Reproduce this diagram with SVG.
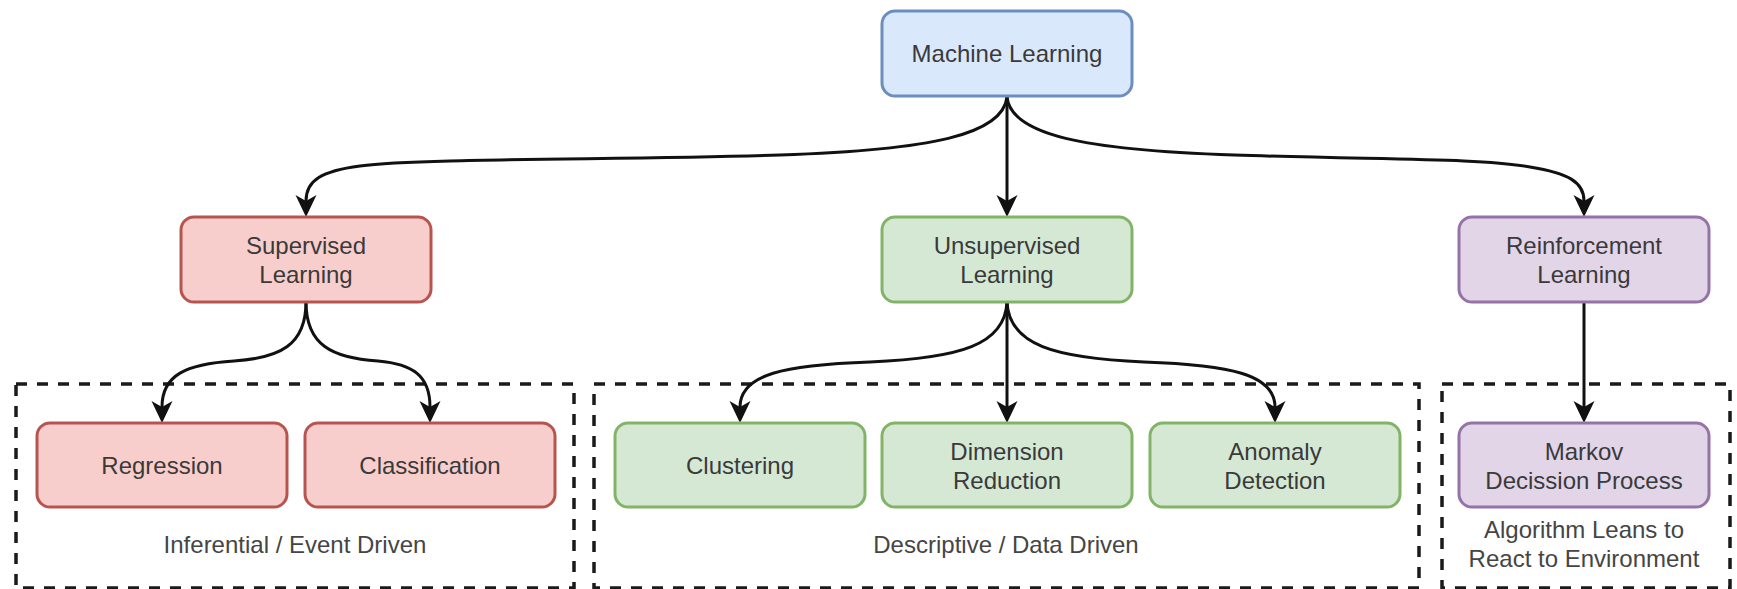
<svg xmlns="http://www.w3.org/2000/svg" width="1737" height="589" viewBox="0 0 1737 589">
  <style>
    .node rect { stroke-width: 3; }
    .blue rect { fill: #dae8fc; stroke: #6c8ebf; }
    .red rect { fill: #f8cecc; stroke: #b85450; }
    .green rect { fill: #d5e8d4; stroke: #82b366; }
    .purple rect { fill: #e1d5e7; stroke: #9673a6; }
    text { font-family: "Liberation Sans", Arial, sans-serif; font-size: 24px; fill: #3a3a3a; text-anchor: middle; }
    .group text { fill: #454545; }
    .group rect { fill: none; stroke: #1a1a1a; stroke-width: 3.5; stroke-dasharray: 11 10; }
    .edge { fill: none; stroke: #111111; stroke-width: 3; marker-end: url(#arrow); }
  </style>
  <defs>
    <marker id="arrow" markerUnits="userSpaceOnUse" markerWidth="24" markerHeight="24" refX="6" refY="10.5" orient="auto">
      <path d="M0,0 L22,10.5 L0,21 L6,10.5 Z" fill="#111111"/>
    </marker>
  </defs>
  <rect width="1737" height="589" fill="#ffffff"/>

  <!-- dashed category frames -->
  <g id="group-supervised" class="group">
    <rect x="16" y="384" width="558" height="204"/>
    <text x="295" y="553">Inferential / Event Driven</text>
  </g>
  <g id="group-unsupervised" class="group">
    <rect x="594" y="384" width="825" height="204"/>
    <text x="1006" y="553">Descriptive / Data Driven</text>
  </g>
  <g id="group-reinforcement" class="group">
    <rect x="1442" y="384" width="288" height="204"/>
    <text x="1584" y="538">Algorithm Leans to</text>
    <text x="1584" y="567">React to Environment</text>
  </g>

  <!-- connectors -->
  <g id="connectors">
    <path class="edge" d="M1007,97 C1003,135 930,150 780,155 C630,160 420,158 360,166 C322,171 306,180 306,201"/>
    <path class="edge" d="M1007,97 L1007,201"/>
    <path class="edge" d="M1007,97 C1011,135 1084,150 1234,155 C1380,160 1480,158 1530,167 C1568,173 1584,182 1584,201"/>
    <path class="edge" d="M306,302 C306,345 280,358 234,361 C186,364 162,375 162,407"/>
    <path class="edge" d="M306,302 C306,345 332,358 378,361 C412,364 430,375 430,407"/>
    <path class="edge" d="M1007,302 C1005,345 960,358 870,362 C785,365 740,374 740,407"/>
    <path class="edge" d="M1007,302 L1007,407"/>
    <path class="edge" d="M1007,302 C1009,345 1054,358 1144,362 C1229,365 1275,374 1275,407"/>
    <path class="edge" d="M1584,302 L1584,407"/>
  </g>

  <!-- nodes -->
  <g id="machine-learning" class="node blue">
    <rect x="882" y="11" width="250" height="85" rx="13"/>
    <text x="1007" y="62">Machine Learning</text>
  </g>
  <g id="supervised-learning" class="node red">
    <rect x="181" y="217" width="250" height="85" rx="13"/>
    <text x="306" y="254">Supervised</text>
    <text x="306" y="283">Learning</text>
  </g>
  <g id="unsupervised-learning" class="node green">
    <rect x="882" y="217" width="250" height="85" rx="13"/>
    <text x="1007" y="254">Unsupervised</text>
    <text x="1007" y="283">Learning</text>
  </g>
  <g id="reinforcement-learning" class="node purple">
    <rect x="1459" y="217" width="250" height="85" rx="13"/>
    <text x="1584" y="254">Reinforcement</text>
    <text x="1584" y="283">Learning</text>
  </g>
  <g id="regression" class="node red">
    <rect x="37" y="423" width="250" height="84" rx="13"/>
    <text x="162" y="474">Regression</text>
  </g>
  <g id="classification" class="node red">
    <rect x="305" y="423" width="250" height="84" rx="13"/>
    <text x="430" y="474">Classification</text>
  </g>
  <g id="clustering" class="node green">
    <rect x="615" y="423" width="250" height="84" rx="13"/>
    <text x="740" y="474">Clustering</text>
  </g>
  <g id="dimension-reduction" class="node green">
    <rect x="882" y="423" width="250" height="84" rx="13"/>
    <text x="1007" y="460">Dimension</text>
    <text x="1007" y="489">Reduction</text>
  </g>
  <g id="anomaly-detection" class="node green">
    <rect x="1150" y="423" width="250" height="84" rx="13"/>
    <text x="1275" y="460">Anomaly</text>
    <text x="1275" y="489">Detection</text>
  </g>
  <g id="markov-decision-process" class="node purple">
    <rect x="1459" y="423" width="250" height="84" rx="13"/>
    <text x="1584" y="460">Markov</text>
    <text x="1584" y="489">Decission Process</text>
  </g>
</svg>
